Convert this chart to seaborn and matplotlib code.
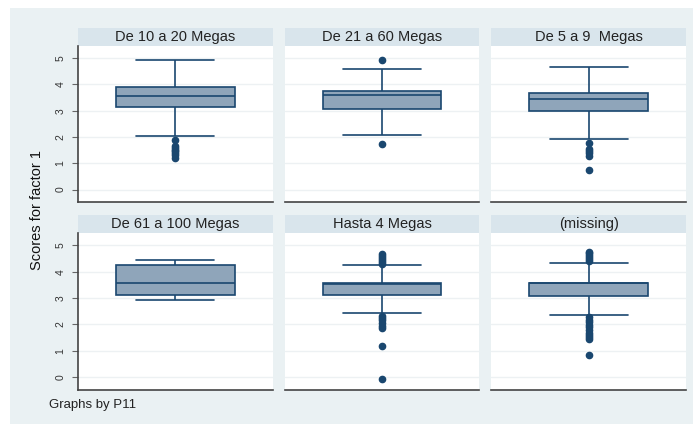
import pandas as pd
import seaborn as sns
import matplotlib.pyplot as plt
from matplotlib.patches import Rectangle

# groups of P11 (one panel each)
groups = ['De 10 a 20 Megas', 'De 21 a 60 Megas', 'De 5 a 9  Megas',
          'De 61 a 100 Megas', 'Hasta 4 Megas', '(missing)']

# box summaries
whis_lo = [2.02, 2.09, 1.94, 2.94, 2.43, 2.37]
q1 = [3.14, 3.08, 2.97, 3.12, 3.10, 3.07]
median = [3.56, 3.58, 3.46, 3.56, 3.55, 3.56]
q3 = [3.89, 3.75, 3.69, 4.26, 3.56, 3.58]
whis_hi = [4.94, 4.57, 4.66, 4.46, 4.24, 4.33]
outliers = [
    [1.90, 1.67, 1.60, 1.52, 1.45, 1.38, 1.30, 1.22],
    [1.72, 4.91],
    [1.77, 1.55, 1.47, 1.38, 1.27, 0.73],
    [],
    [-0.07, 1.17, 1.85, 1.95, 2.05, 2.15, 2.25, 2.33,
     4.30, 4.38, 4.45, 4.52, 4.60, 4.68],
    [0.85, 1.45, 1.50, 1.58, 1.68, 1.78, 1.88, 1.98, 2.08, 2.18, 2.27,
     4.40, 4.48, 4.55, 4.62, 4.70, 4.76],
]

# long table for seaborn: quartile values repeated so the computed
# quartiles land on the values read above
rows = []
for g, lo, a, m, b, hi, out in zip(groups, whis_lo, q1, median, q3, whis_hi, outliers):
    vals = [lo, hi] + [a] * 30 + [m] * 30 + [b] * 30 + out
    rows += [(g, v) for v in vals]
df = pd.DataFrame(rows, columns=['P11', 'score'])

navy = '#1a476f'
fill = '#8fa5ba'
box_w = 0.61
cap_w = 0.40

sns.set_theme(style='white')
plt.rcParams['font.family'] = ['Liberation Sans', 'DejaVu Sans']

fig, axes = plt.subplots(2, 3, figsize=(6.96, 4.24), dpi=100, sharey=True)
fig.subplots_adjust(left=78/696, right=686/696, top=1-46/424, bottom=1-389.5/424,
                    wspace=0.062, hspace=0.199)
fig.patches.append(Rectangle((10/696, 0), 683/696, 416/424, transform=fig.transFigure,
                             facecolor='#eaf1f3', edgecolor='none', zorder=-10))

for i, (ax, g) in enumerate(zip(axes.flat, groups)):
    sns.boxplot(data=df[df.P11 == g], y='score', ax=ax, width=box_w, color=fill,
                saturation=1, linecolor=navy, linewidth=1.2, fliersize=4.5,
                flierprops=dict(marker='o', markerfacecolor=navy, markeredgecolor=navy))
    # wider whisker caps, as in Stata
    for ln in ax.lines:
        xd, yd = list(ln.get_xdata()), list(ln.get_ydata())
        if len(xd) == 2 and yd[0] == yd[1] and abs(xd[1] - xd[0]) < box_w * 0.9:
            c = (xd[0] + xd[1]) / 2
            ln.set_xdata([c - cap_w / 2, c + cap_w / 2])
    ax.set_xlim(-0.5, 0.5)
    ax.set_ylim(-0.48, 5.46)
    ax.set_yticks(range(6))
    ax.set_xticks([])
    ax.set_xlabel('')
    ax.set_ylabel('')
    ax.yaxis.grid(True, color='#edf1f3', lw=1)
    ax.set_axisbelow(True)
    ax.set_facecolor('white')

    # title strip
    ax.add_patch(Rectangle((0, 1), 1, 18/156, transform=ax.transAxes, clip_on=False,
                           facecolor='#d9e5ec', edgecolor='none'))
    ax.text(0.5, 1 + 9/156, g, ha='center', va='center', transform=ax.transAxes,
            fontsize=10.5, color='#222222')

    first_col = (i % 3 == 0)
    sns.despine(ax=ax, left=not first_col)
    ax.spines['bottom'].set_color('#444444')
    ax.spines['bottom'].set_linewidth(1.2)
    if first_col:
        ax.spines['left'].set_color('#444444')
        ax.spines['left'].set_linewidth(1.2)
        ax.tick_params(axis='y', left=True, labelleft=True, length=4, width=0.8,
                       color='#666666', labelsize=7.5, labelcolor='#333333',
                       pad=5, labelrotation=90)
        for t in ax.get_yticklabels():
            t.set_va('center')
    else:
        ax.tick_params(axis='y', left=False, labelleft=False)

fig.text(37/696, 0.505, 'Scores for factor 1', rotation=90, ha='center', va='center',
         fontsize=10.5, color='#111111')
fig.text(49/696, 1 - 405/424, 'Graphs by P11', ha='left', va='center',
         fontsize=9.5, color='#222222')

plt.savefig('out.png', dpi=100)
